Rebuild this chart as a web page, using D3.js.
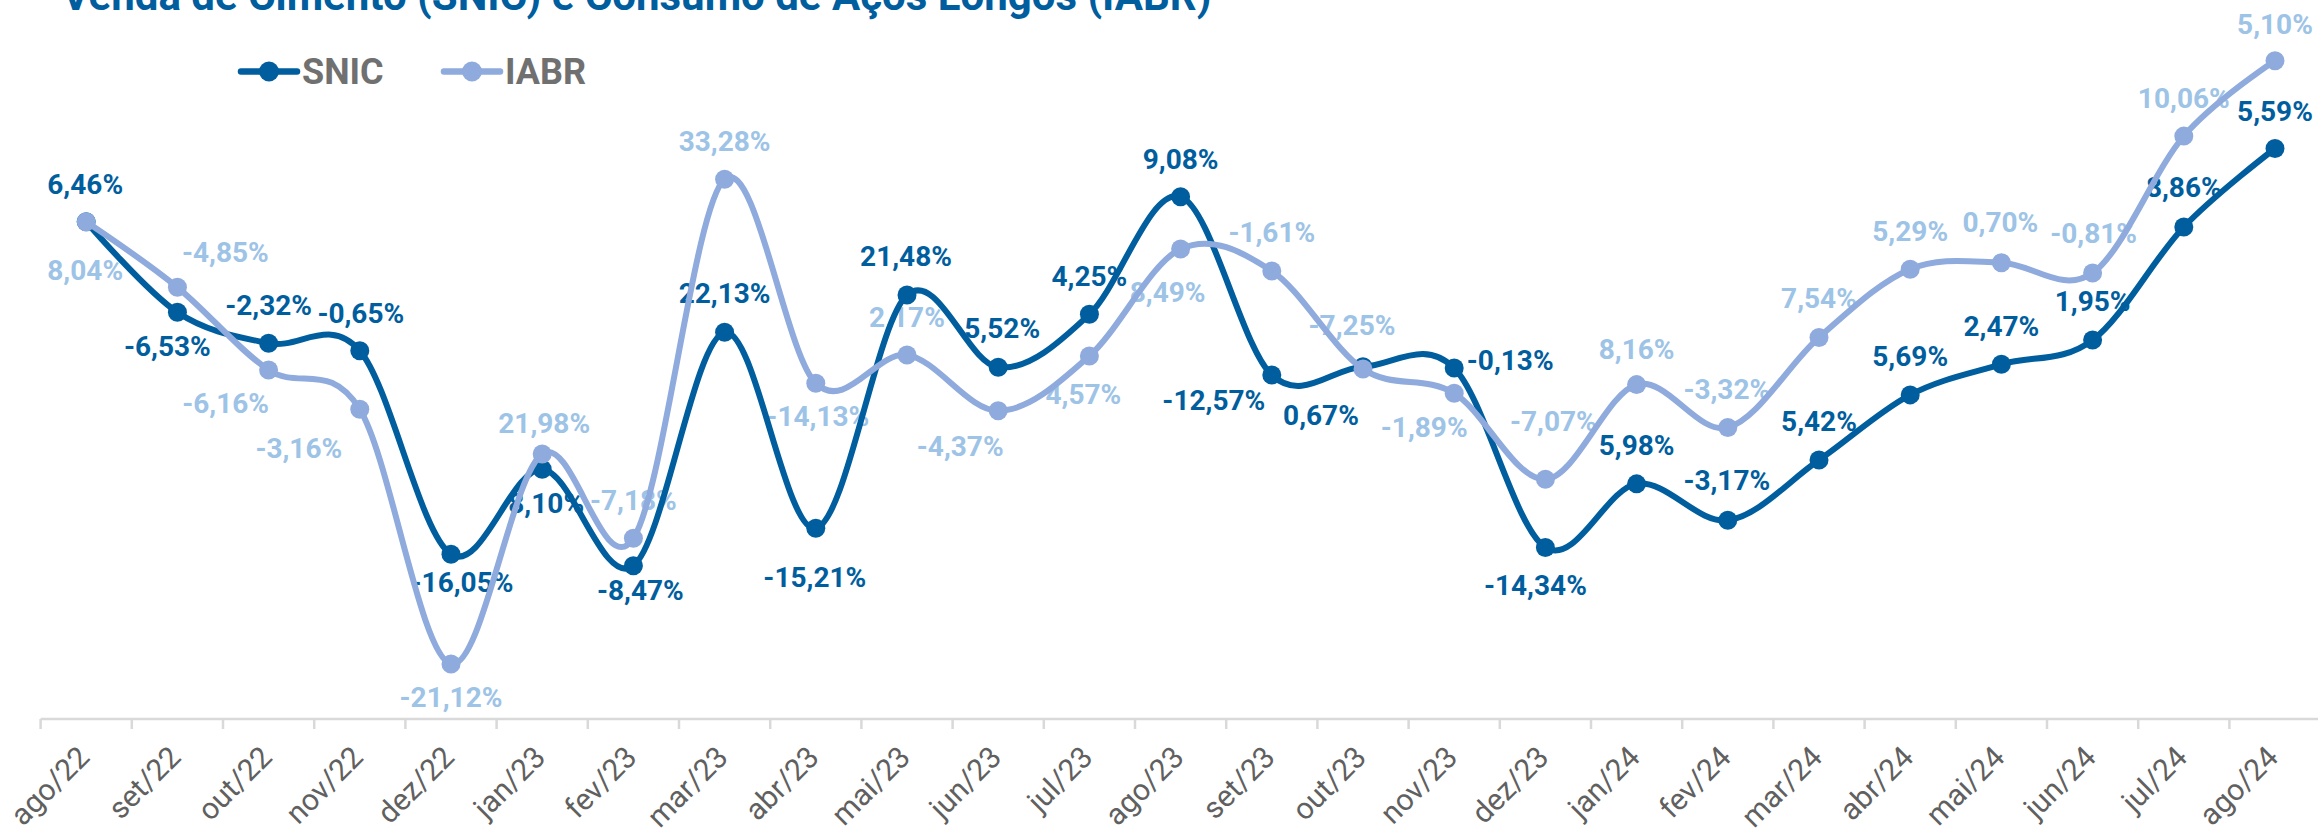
<!DOCTYPE html>
<html>
<head>
<meta charset="utf-8">
<script src="https://cdn.jsdelivr.net/npm/d3@7"></script>
<style>
  html, body { margin: 0; padding: 0; background: #ffffff; }
  svg { display: block; }
</style>
</head>
<body>
<script>
// ---------- data ----------
const categories = ["ago/22","set/22","out/22","nov/22","dez/22","jan/23","fev/23","mar/23","abr/23","mai/23","jun/23","jul/23","ago/23","set/23","out/23","nov/23","dez/23","jan/24","fev/24","mar/24","abr/24","mai/24","jun/24","jul/24","ago/24"];

// plotted series values (arbitrary 0-100 index scale)
const snicValues = [71.04,58.10,53.67,52.61,23.53,35.67,21.90,55.24,27.24,60.57,50.24,57.81,74.61,49.14,50.33,50.14,24.50,33.59,28.39,36.99,46.30,50.67,54.13,70.29,81.50];
const iabrValues = [71.04,61.67,49.86,44.24,7.86,37.86,25.81,77.10,47.96,52.00,44.04,51.86,67.14,64.00,50.00,46.53,34.24,47.77,41.64,54.51,64.26,65.19,63.71,83.27,94.04];

// data labels (year-over-year variation)
const snicLabels = ["6,46%","-6,53%","-2,32%","-0,65%","-16,05%","8,10%","-8,47%","22,13%","-15,21%","21,48%","5,52%","4,25%","9,08%","-12,57%","0,67%","-0,13%","-14,34%","5,98%","-3,17%","5,42%","5,69%","2,47%","1,95%","8,86%","5,59%"];
const iabrLabels = ["8,04%","-4,85%","-6,16%","-3,16%","-21,12%","21,98%","-7,18%","33,28%","-14,13%","2,17%","-4,37%","4,57%","8,49%","-1,61%","-7,25%","-1,89%","-7,07%","8,16%","-3,32%","7,54%","5,29%","0,70%","-0,81%","10,06%","5,10%"];

const seriesNames = ["SNIC","IABR"];

// ---------- layout (label placement offsets relative to each marker) ----------
const snicLabelOffset = [[-1,-28],[-10,44],[0,-28],[1,-28],[11,38],[4,44],[7,34],[0,-29],[-1,59],[-1,-29],[4,-29],[0,-28],[0,-28],[-58,35],[-42,58],[56,2],[-10,47],[0,-29],[-1,-30],[0,-29],[0,-29],[0,-28],[0,-29],[0,-30],[0,-28]];
const iabrLabelOffset = [[-1,58],[48,-25],[-43,43],[-61,49],[0,43],[2,-21],[0,-28],[0,-28],[2,43],[0,-28],[-38,45],[-6,48],[-13,53],[0,-29],[-11,-34],[-30,44],[8,-48],[0,-26],[-1,-29],[0,-29],[0,-28],[-1,-31],[1,-30],[0,-28],[0,-27]];

const W = 2318, H = 833;
const COLORS = { snic: "#005E9E", iabr: "#8FAADC", iabrLabel: "#9DC3E6", legendText: "#707070", axisText: "#606060", axis: "#D9D9D9" };

const svg = d3.select("body").append("svg").attr("width", W).attr("height", H)
  .style("font-family", "Roboto, 'Noto Sans', sans-serif");
svg.append("rect").attr("width", W).attr("height", H).attr("fill", "#fff");

const x = d3.scaleBand().domain(categories).range([40.6, 40.6 + 91.2 * categories.length]).padding(0);
const y = d3.scaleLinear().domain([0, 100]).range([719, 19]);
const cx = d => x(d) + x.bandwidth() / 2;

// title (partially cut at top like the reference)
svg.append("text").attr("x", 62).attr("y", 10)
  .attr("font-size", 42).attr("font-weight", 700).attr("fill", COLORS.snic)
  .text("Venda de Cimento (SNIC) e Consumo de Aços Longos (IABR)");

// legend
const legend = [
  { name: seriesNames[0], color: COLORS.snic, x0: 241 },
  { name: seriesNames[1], color: COLORS.iabr, x0: 444 }
];
const lg = svg.append("g");
legend.forEach(l => {
  lg.append("line").attr("x1", l.x0).attr("x2", l.x0 + 56).attr("y1", 71.5).attr("y2", 71.5)
    .attr("stroke", l.color).attr("stroke-width", 6.5).attr("stroke-linecap", "round");
  lg.append("circle").attr("cx", l.x0 + 28).attr("cy", 71.5).attr("r", 10).attr("fill", l.color);
  lg.append("text").attr("x", l.x0 + 61).attr("y", 83.5).attr("font-size", 36).attr("font-weight", 700)
    .attr("fill", COLORS.legendText).text(l.name);
});

// x axis
const axisG = svg.append("g").attr("transform", "translate(0,719)");
axisG.append("line").attr("x1", 40.6).attr("x2", W).attr("y1", 0).attr("y2", 0)
  .attr("stroke", COLORS.axis).attr("stroke-width", 2.5);
axisG.selectAll("line.tick").data(categories).join("line").attr("class", "tick")
  .attr("x1", d => x(d)).attr("x2", d => x(d)).attr("y1", 0).attr("y2", 10)
  .attr("stroke", COLORS.axis).attr("stroke-width", 2.5);
axisG.selectAll("text").data(categories).join("text")
  .attr("transform", d => `translate(${cx(d) + 5},${40}) rotate(-45)`)
  .attr("text-anchor", "end").attr("font-size", 30).attr("fill", COLORS.axisText)
  .text(d => d);

// labels (drawn beneath lines, as in the reference)
function drawLabels(labels, values, offsets, color) {
  svg.append("g").selectAll("text").data(categories).join("text")
    .attr("x", (d, i) => cx(d) + offsets[i][0])
    .attr("y", (d, i) => y(values[i]) + offsets[i][1])
    .attr("text-anchor", "middle").attr("font-size", 28).attr("font-weight", 700)
    .attr("fill", color).text((d, i) => labels[i]);
}
drawLabels(snicLabels, snicValues, snicLabelOffset, COLORS.snic);
drawLabels(iabrLabels, iabrValues, iabrLabelOffset, COLORS.iabrLabel);

// lines
const line = d3.line().curve(d3.curveCardinal.tension(0));
function drawSeries(values, color) {
  const pts = categories.map((c, i) => [cx(c), y(values[i])]);
  const g = svg.append("g");
  g.append("path").attr("d", line(pts)).attr("fill", "none").attr("stroke", color)
    .attr("stroke-width", 6).attr("stroke-linejoin", "round").attr("stroke-linecap", "round");
  g.selectAll("circle").data(pts).join("circle")
    .attr("cx", p => p[0]).attr("cy", p => p[1]).attr("r", 9.5).attr("fill", color);
}
drawSeries(snicValues, COLORS.snic);
drawSeries(iabrValues, COLORS.iabr);
</script>
</body>
</html>
